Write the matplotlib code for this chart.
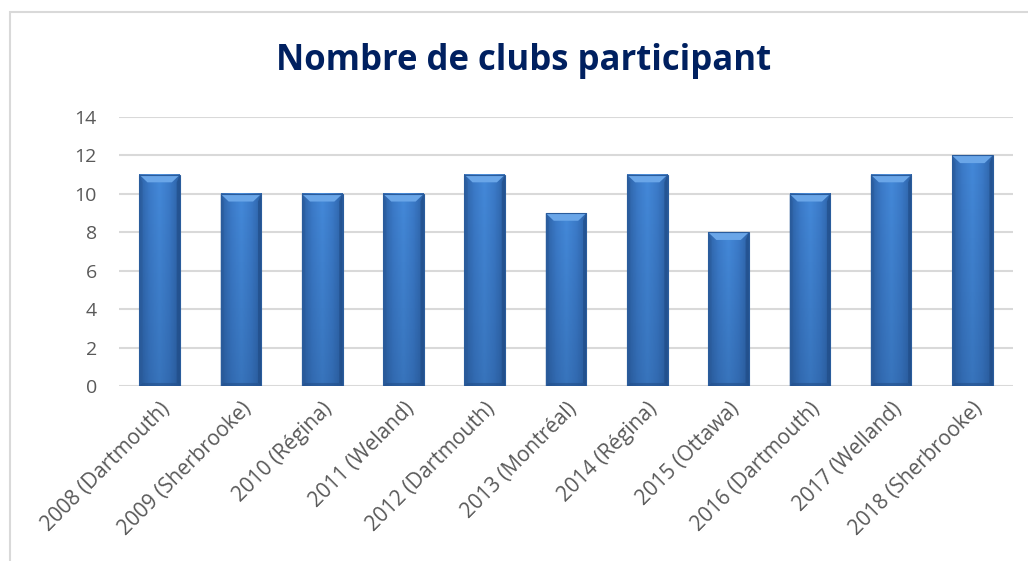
import numpy as np
import matplotlib.pyplot as plt
from matplotlib.colors import LinearSegmentedColormap
from matplotlib.patches import Polygon, Rectangle

# data
labels = ['2008 (Dartmouth)', '2009 (Sherbrooke)', '2010 (Régina)', '2011 (Weland)',
          '2012 (Dartmouth)', '2013 (Montréal)', '2014 (Régina)', '2015 (Ottawa)',
          '2016 (Dartmouth)', '2017 (Welland)', '2018 (Sherbrooke)']
clubs = [11, 10, 10, 10, 11, 9, 11, 8, 10, 11, 12]
yticks = [0, 2, 4, 6, 8, 10, 12, 14]

plt.rcParams['font.family'] = ['Open Sans', 'DejaVu Sans']

fig = plt.figure(figsize=(10.28, 5.61), dpi=100)
ax = fig.add_axes([119 / 1028, 1 - 386 / 561, (1013 - 119) / 1028, (386 - 117) / 561])

# outer chart border (runs off the right and bottom edges)
fig.patches.append(Rectangle((10 / 1028, -0.01), 1.05, 1 - 12 / 561 + 0.01,
                             transform=fig.transFigure, fill=False,
                             edgecolor='#d9d9d9', linewidth=1.5))

ax.set_yticks(yticks)
ax.yaxis.grid(True, color='#d9d9d9', linewidth=1.5)
ax.set_axisbelow(True)
for s in ax.spines.values():
    s.set_visible(False)
ax.tick_params(length=0, colors='#595959', labelsize=14)
ax.tick_params(axis='y', pad=16)

# horizontal gradient for the bar body
body_cmap = LinearSegmentedColormap.from_list('body', ['#2d62a6', '#3c7bc9', '#4489d9', '#3c7bc9', '#2d62a6'])
grad = np.linspace(0, 1, 64).reshape(1, -1)
# vertical darkening toward the bottom
shade = np.zeros((64, 1, 4))
shade[..., 0:3] = [0.10, 0.25, 0.45]
shade[:, 0, 3] = np.linspace(0.0, 0.28, 64)

w = 0.5
bx = 0.1     # bevel width (category units)
by = 0.4     # bevel height (value units)
for i, v in enumerate(clubs):
    x0, x1 = i - w / 2, i + w / 2
    ax.imshow(grad, extent=(x0, x1, 0, v), aspect='auto', cmap=body_cmap, zorder=2)
    ax.imshow(shade, extent=(x0, x1, 0, v), aspect='auto', zorder=2.5)
    # top bevel
    ax.add_patch(Polygon([(x0, v), (x1, v), (x1 - bx, v - by), (x0 + bx, v - by)],
                         closed=True, facecolor='#6aa6e8', edgecolor='none', zorder=3))
    # side bevels
    ax.add_patch(Polygon([(x0, v), (x0 + bx * 0.4, v - by), (x0 + bx * 0.4, by * 0.4), (x0, 0)],
                         closed=True, facecolor='#2a5a98', edgecolor='none', alpha=0.5, zorder=3))
    ax.add_patch(Polygon([(x1, v), (x1 - bx * 0.4, v - by), (x1 - bx * 0.4, by * 0.4), (x1, 0)],
                         closed=True, facecolor='#1f4a84', edgecolor='none', alpha=0.6, zorder=3))
    # bottom bevel
    ax.add_patch(Polygon([(x0, 0), (x1, 0), (x1 - bx * 0.4, by * 0.4), (x0 + bx * 0.4, by * 0.4)],
                         closed=True, facecolor='#234f8a', edgecolor='none', alpha=0.6, zorder=3))
    ax.add_patch(Rectangle((x0, 0), w, v, fill=False, edgecolor='#2a5c9c', linewidth=0.8, zorder=4))

ax.set_xlim(-0.5, len(clubs) - 0.5)
ax.set_ylim(0, 14)
ax.set_xticks(range(len(clubs)))
ax.set_xticklabels(labels, rotation=45, ha='right', rotation_mode='anchor', fontsize=15)
ax.tick_params(axis='x', pad=9)

fig.text(524 / 1028, 1 - 61 / 561, 'Nombre de clubs participant', ha='center', va='center',
         fontsize=25, fontweight='bold', color='#002060')

fig.savefig('out.png', dpi=100)
